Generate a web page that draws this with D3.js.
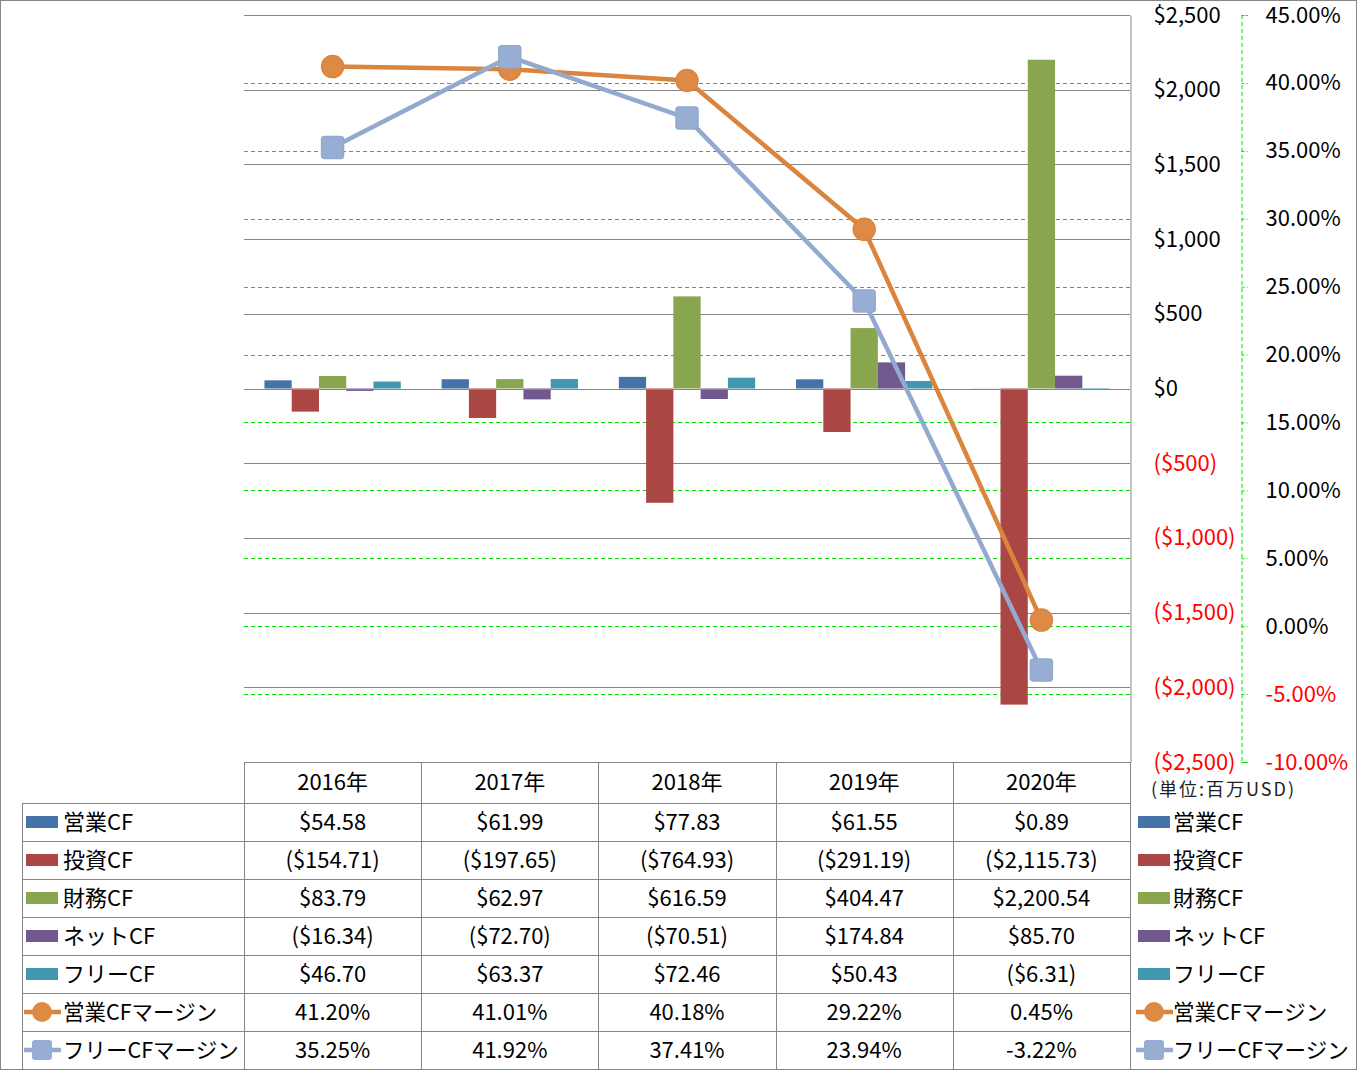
<!DOCTYPE html>
<html><head><meta charset="utf-8">
<script src="https://cdn.jsdelivr.net/npm/d3@7"></script>
<style>
html,body{margin:0;padding:0;background:#fff;}
svg{display:block;}
text{font-family:"Noto Sans CJK JP","Noto Sans",sans-serif;}
</style></head>
<body>
<svg id="chart" width="1358" height="1071"></svg>
<script>
const categories = ["2016年","2017年","2018年","2019年","2020年"];
const seriesNames = ["営業CF","投資CF","財務CF","ネットCF","フリーCF"];
const eigyoCF  = [54.58, 61.99, 77.83, 61.55, 0.89];
const toushiCF = [-154.71, -197.65, -764.93, -291.19, -2115.73];
const zaimuCF  = [83.79, 62.97, 616.59, 404.47, 2200.54];
const netCF    = [-16.34, -72.70, -70.51, 174.84, 85.70];
const freeCF   = [46.70, 63.37, 72.46, 50.43, -6.31];
const lineNames = ["営業CFマージン","フリーCFマージン"];
const eigyoMargin = [41.20, 41.01, 40.18, 29.22, 0.45];
const freeMargin  = [35.25, 41.92, 37.41, 23.94, -3.22];
const leftTicks  = [2500, 2000, 1500, 1000, 500, 0, -500, -1000, -1500, -2000, -2500];
const rightTicks = [45, 40, 35, 30, 25, 20, 15, 10, 5, 0, -5, -10];
const unitLabel = "(単位:百万USD)";

const barSeries = [eigyoCF, toushiCF, zaimuCF, netCF, freeCF];
const lineSeries = [eigyoMargin, freeMargin];
const barColors = ["#4572A7","#AA4643","#89A54E","#71588F","#4198AF"];
const lineColors = ["#DB843D","#93A9CF"];

const svg = d3.select("#chart");
const L = 244, R = 1130, T = 15, B = 762;
const headerH = 41, rowH = 38;
const tableLeft = 22;
const FS = 22;

const x = d3.scaleBand().domain(categories).range([L, R]).paddingInner(0).paddingOuter(0);
const yL = d3.scaleLinear().domain([-2500, 2500]).range([B, T]);
const yR = d3.scaleLinear().domain([-10, 45]).range([B, T]);
const barW = x.bandwidth() / 6.5;
const xs = d3.scaleBand().domain(d3.range(barSeries.length)).range([0, barW*5]);

const fmtNum = d3.format(",.2f");
const fmtInt = d3.format(",");
const money = v => v < 0 ? "($" + fmtNum(-v) + ")" : "$" + fmtNum(v);
const moneyAxis = v => v < 0 ? "($" + fmtInt(-v) + ")" : "$" + fmtInt(v);
const pct = v => (v < 0 ? "-" : "") + d3.format(".2f")(Math.abs(v)) + "%";

// outer border
svg.append("rect").attr("x",0.5).attr("y",0.5).attr("width",1356).attr("height",1069)
  .attr("fill","#fff").attr("stroke","#868686").attr("stroke-width",1);

// secondary gridlines (green dashed)
svg.append("g").selectAll("line").data(rightTicks).join("line")
  .attr("x1", L).attr("x2", R)
  .attr("y1", d => Math.round(yR(d))+0.5).attr("y2", d => Math.round(yR(d))+0.5)
  .attr("stroke","#00E000").attr("stroke-width",1).attr("stroke-dasharray","4,3");

// primary gridlines (gray)
svg.append("g").selectAll("line").data(leftTicks).join("line")
  .attr("x1", L).attr("x2", R)
  .attr("y1", d => Math.round(yL(d))+0.5).attr("y2", d => Math.round(yL(d))+0.5)
  .attr("stroke","#868686").attr("stroke-width",1);

// bars
const gBars = svg.append("g");
barSeries.forEach((vals, si) => {
  gBars.append("g").selectAll("rect").data(vals).join("rect")
    .attr("x", (d,i) => x(categories[i]) + (x.bandwidth() - barW*5)/2 + xs(si))
    .attr("width", xs.bandwidth())
    .attr("y", d => yL(Math.max(0,d)))
    .attr("height", d => Math.abs(yL(d) - yL(0)))
    .attr("fill", barColors[si]);
});
// zero line over bars
svg.append("line").attr("x1",L).attr("x2",R)
  .attr("y1",Math.round(yL(0))+0.5).attr("y2",Math.round(yL(0))+0.5)
  .attr("stroke","#868686");

// lines
const cx = i => x(categories[i]) + x.bandwidth()/2;
const lineGen = d3.line().x((d,i) => cx(i)).y(d => yR(d));
lineSeries.forEach((vals, li) => {
  const g = svg.append("g");
  g.append("path").datum(vals).attr("d", lineGen).attr("fill","none")
    .attr("stroke", lineColors[li]).attr("stroke-width",4.5).attr("stroke-linejoin","round");
  if (li === 0) {
    g.selectAll("circle").data(vals).join("circle")
      .attr("cx",(d,i)=>cx(i)).attr("cy",d=>yR(d)).attr("r",11)
      .attr("fill","#DE8A45").attr("stroke",lineColors[li]).attr("stroke-width",1.5);
  } else {
    g.selectAll("rect").data(vals).join("rect")
      .attr("x",(d,i)=>cx(i)-11).attr("y",d=>yR(d)-11).attr("width",22).attr("height",22)
      .attr("rx",3).attr("fill","#97ADD3").attr("stroke",lineColors[li]).attr("stroke-width",1.5);
  }
});

// primary axis at right of plot
const axL = svg.append("g").attr("transform",`translate(${R+0.5},0)`)
  .call(d3.axisRight(yL).tickValues(leftTicks).tickSize(0).tickPadding(23).tickFormat(moneyAxis));
axL.select(".domain").attr("stroke","#868686");
axL.selectAll("text").attr("font-size",FS).attr("fill", d => d < 0 ? "#FF0000" : "#000")
  .attr("font-family","\"Noto Sans CJK JP\",sans-serif");

// secondary axis
const axR = svg.append("g").attr("transform",`translate(1241.5,0)`)
  .call(d3.axisRight(yR).tickValues(rightTicks).tickSize(6).tickPadding(18).tickFormat(pct));
axR.select(".domain").attr("stroke","#00E000").attr("stroke-dasharray","4,3");
axR.selectAll(".tick line").attr("stroke","#00E000").attr("stroke-dasharray","3,2");
axR.selectAll("text").attr("font-size",FS).attr("fill", d => d < 0 ? "#FF0000" : "#000")
  .attr("font-family","\"Noto Sans CJK JP\",sans-serif");

// unit label
svg.append("text").attr("x",1151).attr("y",790).attr("dy","0.35em")
  .attr("font-size",18).attr("letter-spacing",2).attr("fill","#222").text(unitLabel);

// data table
const tbl = svg.append("g");
const tableBottom = B + headerH + rowH*7;
const hline = (x1,x2,y) => tbl.append("line").attr("x1",x1).attr("x2",x2).attr("y1",y+0.5).attr("y2",y+0.5).attr("stroke","#868686");
const vline = (xx,y1,y2) => tbl.append("line").attr("x1",xx+0.5).attr("x2",xx+0.5).attr("y1",y1).attr("y2",y2).attr("stroke","#868686");
hline(L, R, B);
for (let r = 0; r <= 7; r++) hline(tableLeft, R, B + headerH + r*rowH);
vline(tableLeft, B+headerH, tableBottom);
categories.forEach(c => vline(Math.round(x(c)), B, tableBottom));
vline(R, B, tableBottom);

// header
tbl.selectAll("text.hdr").data(categories).join("text").attr("class","hdr")
  .attr("x", d => x(d) + x.bandwidth()/2).attr("y", B + headerH/2).attr("dy","0.35em")
  .attr("text-anchor","middle").attr("font-size",FS).attr("fill","#000").text(d => d);

const allRows = barSeries.map((v,i)=>({name:seriesNames[i], vals:v, type:"bar", color:barColors[i]}))
  .concat(lineSeries.map((v,i)=>({name:lineNames[i], vals:v, type:"line", idx:i, color:lineColors[i]})));

allRows.forEach((row, r) => {
  const cy = B + headerH + r*rowH + rowH/2;
  row.vals.forEach((v,i) => {
    tbl.append("text").attr("x", cx(i)).attr("y", cy).attr("dy","0.35em")
      .attr("text-anchor","middle").attr("font-size",FS).attr("fill","#000")
      .text(row.type === "bar" ? money(v) : pct(v));
  });
  // legend keys on left and right
  [[26, 63], [1138, 1173]].forEach(([kx, tx]) => {
    if (row.type === "bar") {
      tbl.append("rect").attr("x",kx).attr("y",cy-6).attr("width",32).attr("height",12).attr("fill",row.color);
    } else {
      tbl.append("line").attr("x1",kx-2).attr("x2",kx+35).attr("y1",cy).attr("y2",cy)
        .attr("stroke",row.color).attr("stroke-width",4.5);
      if (row.idx === 0) {
        tbl.append("circle").attr("cx",kx+16).attr("cy",cy).attr("r",10).attr("fill","#DE8A45");
      } else {
        tbl.append("rect").attr("x",kx+6).attr("y",cy-10).attr("width",20).attr("height",20).attr("rx",3).attr("fill","#97ADD3");
      }
    }
    tbl.append("text").attr("x",tx).attr("y",cy).attr("dy","0.35em")
      .attr("font-size", row.type === "line" ? 21.5 : FS).attr("fill","#000").text(row.name);
  });
});
</script>
</body></html>
